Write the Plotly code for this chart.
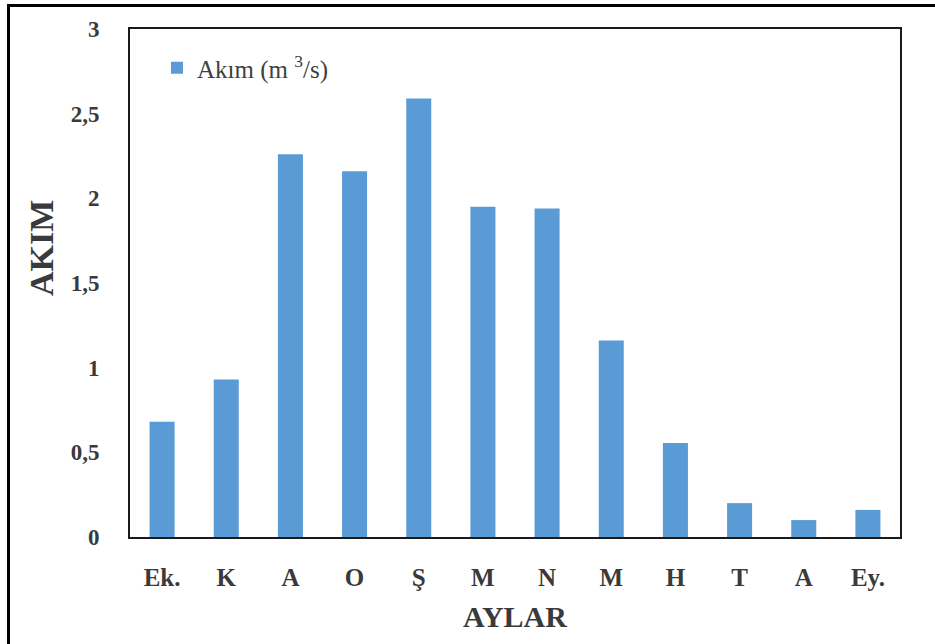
import plotly.graph_objects as go

# Monthly discharge (water year order, October -> September)
months = ["Ek.", "K", "A", "O", "Ş", "M", "N", "M", "H", "T", "A", "Ey."]
flow = [0.68, 0.93, 2.26, 2.16, 2.59, 1.95, 1.94, 1.16, 0.555, 0.20, 0.10, 0.16]
series_name = "Akım (m <sup>3</sup>/s)"
y_ticks = [0, 0.5, 1, 1.5, 2, 2.5, 3]
y_tick_text = ["0", "0,5", "1", "1,5", "2", "2,5", "3"]

W, H = 935, 644
L, R, T, B = 130, 35, 29, 107
pw, ph = W - L - R, H - T - B

def px_x(x):
    return (x - L) / pw

def px_y(y):
    return (H - B - y) / ph

serif = "Liberation Serif, Times New Roman, serif"
text_col = "#3a3a3a"
positions = list(range(len(months)))

fig = go.Figure(
    go.Bar(
        x=positions,
        y=flow,
        name=series_name,
        marker=dict(color="#5B9BD5", line=dict(width=0)),
        showlegend=True,
    )
)

fig.update_layout(
    width=W,
    height=H,
    margin=dict(l=L, r=R, t=T, b=B),
    paper_bgcolor="white",
    plot_bgcolor="white",
    bargap=0.61,
    font=dict(family=serif, color=text_col),
    legend=dict(
        x=px_x(157),
        y=px_y(45),
        xanchor="left",
        yanchor="top",
        bgcolor="rgba(0,0,0,0)",
        font=dict(family=serif, size=25, color="#404040"),
        itemwidth=30,
    ),
    xaxis=dict(
        tickmode="array",
        tickvals=positions,
        ticktext=months,
        range=[-0.5, len(months) - 0.5],
        showline=True,
        linecolor="#1a1a1a",
        linewidth=2,
        mirror=True,
        showgrid=False,
        zeroline=False,
        ticks="",
        ticklabelstandoff=17,
        tickfont=dict(family=serif, size=25, color=text_col, weight="bold"),
        title=dict(
            text="AYLAR",
            font=dict(family=serif, size=30, color=text_col, weight="bold"),
            standoff=16,
        ),
    ),
    yaxis=dict(
        tickmode="array",
        tickvals=y_ticks,
        ticktext=y_tick_text,
        range=[0, 3],
        showline=True,
        linecolor="#1a1a1a",
        linewidth=2,
        mirror=True,
        showgrid=False,
        zeroline=False,
        ticks="",
        ticklabelstandoff=24,
        tickfont=dict(family=serif, size=23, color=text_col, weight="bold"),
    ),
)

# Vertical axis title, placed a little above the plot's midline
fig.add_annotation(
    text="AKIM",
    xref="paper", yref="paper",
    x=px_x(41), y=px_y(248),
    xanchor="center", yanchor="middle",
    textangle=-90,
    showarrow=False,
    font=dict(family=serif, size=34, color=text_col, weight="bold"),
)

# Outer frame: top and left edges of the figure border
frame = dict(color="black", width=3)
fig.add_shape(type="line", xref="paper", yref="paper",
              x0=px_x(7), x1=px_x(W + 2), y0=px_y(5.5), y1=px_y(5.5), line=frame)
fig.add_shape(type="line", xref="paper", yref="paper",
              x0=px_x(8.5), x1=px_x(8.5), y0=px_y(4), y1=px_y(H + 2), line=frame)

fig.write_html("out.html")
